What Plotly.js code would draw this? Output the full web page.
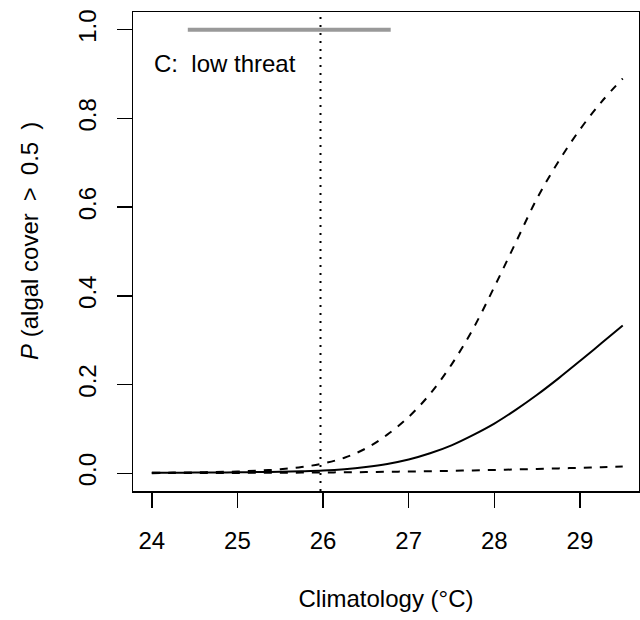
<!DOCTYPE html>
<html>
<head>
<meta charset="utf-8">
<script src="https://cdn.plot.ly/plotly-3.0.1.min.js"></script>
<style>html,body{margin:0;padding:0;background:#fff;}</style>
</head>
<body>
<div id="chart" style="width:640px;height:620px;"></div>
<script>
// Climatology (°C) grid
const temp = [24.00, 24.25, 24.50, 24.75, 25.00, 25.25, 25.50, 25.75, 26.00, 26.25, 26.50, 26.75,
              27.00, 27.25, 27.50, 27.75, 28.00, 28.25, 28.50, 28.75, 29.00, 29.25, 29.50];
// fitted probability (solid)
const fitMean = [0.001, 0.0012, 0.0015, 0.0018, 0.0022, 0.0028, 0.0035, 0.0045, 0.006, 0.009, 0.014, 0.021,
                 0.031, 0.045, 0.063, 0.086, 0.112, 0.143, 0.177, 0.214, 0.253, 0.293, 0.333];
// upper confidence bound (dashed)
const ciUpper = [0.001, 0.0015, 0.002, 0.003, 0.004, 0.006, 0.009, 0.014, 0.022, 0.035, 0.056, 0.087,
                 0.127, 0.179, 0.245, 0.325, 0.42, 0.52, 0.62, 0.703, 0.775, 0.837, 0.89];
// lower confidence bound (dashed)
const ciLower = [0.0003, 0.0004, 0.0005, 0.0006, 0.0008, 0.001, 0.0012, 0.0015, 0.0018, 0.0022, 0.0027, 0.0033,
                 0.004, 0.0047, 0.0055, 0.0065, 0.0075, 0.0086, 0.0098, 0.011, 0.0123, 0.0136, 0.015];
// observed climatology range (grey bar at top)
const rangeX = [24.42, 26.79];
const rangeY = [1, 1];
// reference climatology (dotted vertical line)
const refTemp = 25.97;
// axis ticks
const xTicks = [24, 25, 26, 27, 28, 29];
const xTickLabels = ["24", "25", "26", "27", "28", "29"];
const yTicks = [0, 0.2, 0.4, 0.6, 0.8, 1.0];
const yTickLabels = ["0.0", "0.2", "0.4", "0.6", "0.8", "1.0"];
const panelLabel = "C:\u00a0\u00a0low threat";
const yTitle = "<i>P</i> (algal cover\u2002>\u20020.5\u2002)";
const xTitle = "Climatology (\u00b0C)";

const FONT = "Liberation Sans, Arial, Helvetica, sans-serif";

const traces = [
  {x: temp, y: ciUpper, mode: "lines", line: {color: "#000", width: 2, dash: "8px,8px", shape: "spline"}, hoverinfo: "skip"},
  {x: temp, y: ciLower, mode: "lines", line: {color: "#000", width: 2, dash: "8px,8px", shape: "spline"}, hoverinfo: "skip"},
  {x: temp, y: fitMean, mode: "lines", line: {color: "#000", width: 2, shape: "spline"}, hoverinfo: "skip"},
  {x: rangeX, y: rangeY, mode: "lines", line: {color: "#999999", width: 4}, hoverinfo: "skip"}
];

const axisCommon = {
  showgrid: false, zeroline: false, showline: true, mirror: true,
  linecolor: "#000", linewidth: 1.5,
  ticks: "outside", ticklen: 15, tickwidth: 1.5, tickcolor: "#000",
  tickfont: {family: FONT, size: 24, color: "#000"}
};

const layout = {
  width: 640, height: 620,
  margin: {l: 133, r: 1, t: 12, b: 129},
  paper_bgcolor: "#fff", plot_bgcolor: "#fff",
  showlegend: false,
  font: {family: FONT, size: 24, color: "#000"},
  xaxis: Object.assign({}, axisCommon, {
    range: [23.78, 29.69],
    tickmode: "array", tickvals: xTicks, ticktext: xTickLabels,
    ticklabelstandoff: 13,
    title: {text: xTitle, font: {family: FONT, size: 24, color: "#000"}, standoff: 37}
  }),
  yaxis: Object.assign({}, axisCommon, {
    range: [-0.04, 1.04],
    tickmode: "array", tickvals: yTicks, ticktext: yTickLabels,
    tickangle: -90,
    ticklabelstandoff: 11
  }),
  shapes: [
    {type: "line", xref: "x", yref: "paper", x0: refTemp, x1: refTemp, y0: 0, y1: 1,
     line: {color: "#000", width: 2, dash: "2px,6px"}}
  ],
  annotations: [
    {text: panelLabel, xref: "x", yref: "y", x: 24, y: 0.925, xanchor: "left", yanchor: "middle",
     showarrow: false, font: {family: FONT, size: 24, color: "#000"}},
    {text: yTitle, xref: "paper", yref: "paper", x: -0.2036, y: 0.522,
     xanchor: "center", yanchor: "middle", textangle: -90, showarrow: false,
     font: {family: FONT, size: 24, color: "#000"}}
  ]
};

Plotly.newPlot("chart", traces, layout, {staticPlot: true, displayModeBar: false});
</script>
</body>
</html>
